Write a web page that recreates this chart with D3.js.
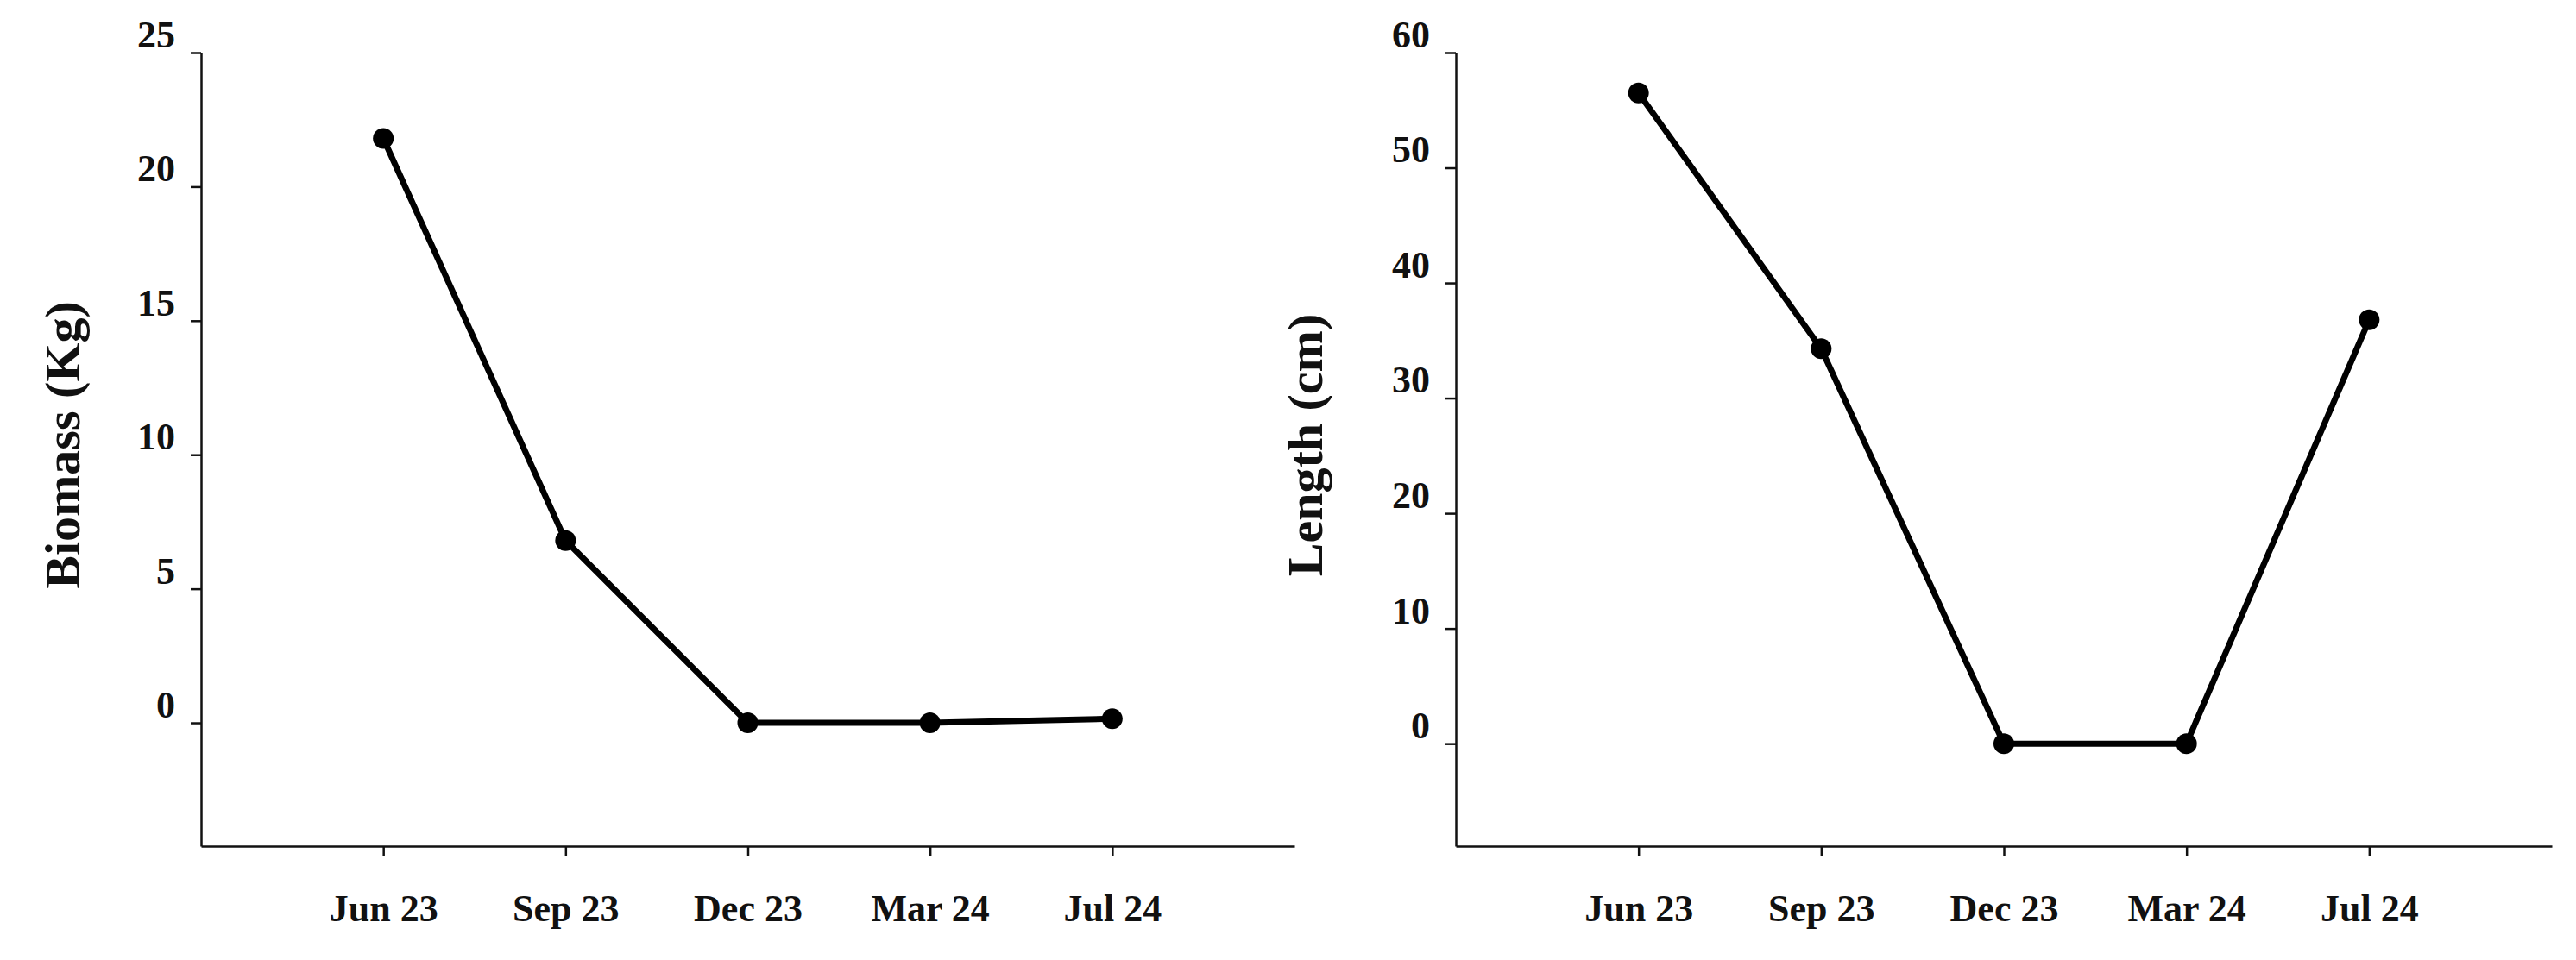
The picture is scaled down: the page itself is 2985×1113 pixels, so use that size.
<!DOCTYPE html>
<html>
<head>
<meta charset="utf-8">
<script src="https://cdn.jsdelivr.net/npm/d3@7"></script>
<style>
	body { margin: 0; background: white; }
	text { font-family: "Liberation Serif", "DejaVu Serif", serif; font-weight: bold; fill: #111; }
</style>
</head>
<body>
<svg id="chart" width="2985" height="1113"></svg>
<script>
const months = ["Jun 23", "Sep 23", "Dec 23", "Mar 24", "Jul 24"];
const biomass = [21.8, 6.8, 0, 0, 0.15];
const lengthCm = [56.5, 34.3, 0, 0, 36.8];
const biomassTicks = [0, 5, 10, 15, 20, 25];
const lengthTicks = [0, 10, 20, 30, 40, 50, 60];

const svg = d3.select("#chart");

function drawPanel(opts) {
	const g = svg.append("g");
	let x = d3.scaleLinear().domain([0, months.length + 1]).range([opts.left, opts.right]),
		y = d3.scaleLinear().domain(opts.domain).range([opts.bottom, opts.top]);

	// y axis
	g.append("g")
		.attr("transform", `translate(${opts.left},0)`)
		.call(d3.axisLeft(y).tickValues(opts.ticks).tickSize(12).tickPadding(18).tickSizeOuter(0))
		.call(a => a.select(".domain").attr("stroke", "#111").attr("stroke-width", 2.5))
		.call(a => a.selectAll(".tick line").attr("stroke", "#111").attr("stroke-width", 2.5))
		.call(a => a.selectAll(".tick text").attr("font-size", 44).attr("dy", "-0.15em"));

	// x axis
	g.append("g")
		.attr("transform", `translate(0,${opts.bottom})`)
		.call(d3.axisBottom(x).tickValues(months.map((m, i) => i + 1)).tickFormat(i => months[i - 1])
			.tickSize(12).tickPadding(44).tickSizeOuter(0))
		.call(a => a.select(".domain").attr("stroke", "#111").attr("stroke-width", 2.5))
		.call(a => a.selectAll(".tick line").attr("stroke", "#111").attr("stroke-width", 2.5))
		.call(a => a.selectAll(".tick text").attr("font-size", 44));

	g.append("path")
		.datum(opts.values)
		.attr("fill", "none")
		.attr("stroke", "#000")
		.attr("stroke-width", 7)
		.attr("d", d3.line().x((d, i) => x(i + 1)).y(d => y(d)));

	g.selectAll("circle")
		.data(opts.values)
		.enter()
		.append("circle")
		.attr("cx", (d, i) => x(i + 1))
		.attr("cy", d => y(d))
		.attr("r", 12)
		.attr("fill", "#000");

	g.append("text")
		.attr("transform", `translate(${opts.labelX},${(opts.top + opts.bottom) / 2 - 5}) rotate(-90)`)
		.attr("text-anchor", "middle")
		.attr("font-size", 58)
		.text(opts.label);
}

drawPanel({ left: 233, right: 1500, top: 61, bottom: 981, domain: [-4.6, 25], ticks: biomassTicks, values: biomass, label: "Biomass (Kg)", labelX: 92 });
drawPanel({ left: 1687, right: 2957, top: 61, bottom: 981, domain: [-8.9, 60], ticks: lengthTicks, values: lengthCm, label: "Length (cm)", labelX: 1532 });
</script>
</body>
</html>
